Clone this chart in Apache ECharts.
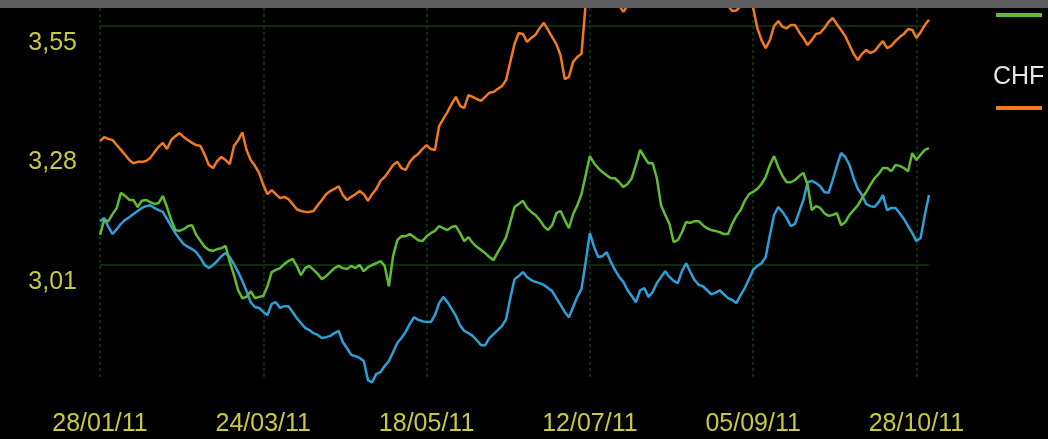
<!DOCTYPE html>
<html>
<head>
<meta charset="utf-8">
<script src="https://cdn.jsdelivr.net/npm/echarts@6/dist/echarts.min.js"></script>
<style>
  html, body { margin: 0; padding: 0; background: #000; }
  #chart { width: 1048px; height: 439px; }
</style>
</head>
<body>
<div id="chart"></div>
<script>
// ---- data ----
const startDate = '2011-01-28';      // first business day shown
const dayCount = 199;                // business days on the axis
const tickLabels = ['28/01/11', '24/03/11', '18/05/11', '12/07/11', '05/09/11', '28/10/11'];
const yLabelValues = [3.01, 3.28, 3.55];
const yGridValues = [3.01, 3.55];

// green (legend label cropped off)
const eurValues = [
3.078,3.112,3.109,3.125,3.139,3.173,3.166,3.157,3.157,3.141,
3.155,3.157,3.152,3.148,3.150,3.166,3.141,3.112,3.089,3.087,
3.091,3.098,3.100,3.078,3.064,3.051,3.044,3.042,3.046,3.048,
3.053,3.017,2.987,2.953,2.935,2.938,2.951,2.935,2.938,2.940,
2.962,2.994,2.999,3.003,3.012,3.019,3.024,3.008,2.987,3.003,
3.008,2.999,2.990,2.978,2.985,2.994,3.003,3.008,3.003,3.001,
3.008,3.003,3.010,2.996,3.005,3.010,3.014,3.019,3.008,2.962,
3.030,3.066,3.075,3.075,3.080,3.073,3.066,3.064,3.075,3.082,
3.087,3.098,3.093,3.089,3.096,3.098,3.082,3.064,3.073,3.060,
3.051,3.044,3.037,3.028,3.021,3.039,3.055,3.073,3.107,3.141,
3.148,3.155,3.139,3.130,3.123,3.112,3.098,3.089,3.100,3.127,
3.132,3.112,3.093,3.125,3.145,3.170,3.213,3.256,3.240,3.229,
3.220,3.213,3.206,3.206,3.197,3.186,3.193,3.206,3.236,3.270,
3.254,3.240,3.240,3.206,3.145,3.123,3.103,3.062,3.066,3.084,
3.107,3.105,3.109,3.109,3.100,3.093,3.089,3.087,3.084,3.080,
3.080,3.103,3.121,3.134,3.155,3.170,3.175,3.182,3.193,3.209,
3.236,3.256,3.231,3.211,3.197,3.197,3.202,3.211,3.218,3.191,
3.134,3.143,3.139,3.127,3.121,3.123,3.127,3.100,3.107,3.123,
3.134,3.145,3.161,3.175,3.191,3.206,3.216,3.229,3.229,3.222,
3.236,3.234,3.229,3.222,3.263,3.247,3.259,3.270,3.274
];

// orange
const chfValues = [
3.290,3.299,3.295,3.292,3.281,3.270,3.259,3.247,3.240,3.243,
3.243,3.245,3.252,3.265,3.277,3.286,3.272,3.292,3.301,3.308,
3.299,3.292,3.286,3.281,3.279,3.259,3.236,3.229,3.245,3.254,
3.247,3.238,3.279,3.292,3.310,3.270,3.247,3.234,3.218,3.191,
3.170,3.179,3.170,3.161,3.164,3.159,3.148,3.136,3.132,3.130,
3.130,3.132,3.145,3.157,3.170,3.177,3.182,3.188,3.168,3.157,
3.164,3.170,3.177,3.170,3.155,3.170,3.182,3.200,3.209,3.222,
3.236,3.243,3.229,3.225,3.243,3.254,3.261,3.272,3.281,3.272,
3.270,3.324,3.340,3.356,3.374,3.390,3.369,3.365,3.394,3.390,
3.385,3.381,3.390,3.399,3.401,3.408,3.414,3.428,3.469,3.509,
3.534,3.532,3.514,3.523,3.530,3.545,3.557,3.541,3.525,3.509,
3.484,3.430,3.435,3.469,3.480,3.487,3.600,3.625,3.640,3.632,
3.645,3.630,3.612,3.600,3.596,3.582,3.596,3.615,3.628,3.640,
3.652,3.660,3.648,3.655,3.668,3.660,3.645,3.650,3.638,3.625,
3.615,3.620,3.610,3.600,3.606,3.612,3.605,3.598,3.600,3.600,
3.596,3.584,3.585,3.595,3.605,3.600,3.592,3.545,3.518,3.500,
3.518,3.550,3.561,3.548,3.545,3.552,3.552,3.536,3.523,3.507,
3.518,3.532,3.534,3.545,3.559,3.568,3.554,3.541,3.527,3.507,
3.487,3.473,3.487,3.496,3.489,3.493,3.505,3.516,3.500,3.505,
3.516,3.525,3.532,3.543,3.541,3.523,3.536,3.552,3.564
];

// blue
const usdValues = [
3.109,3.116,3.096,3.080,3.091,3.103,3.112,3.118,3.125,3.132,
3.139,3.143,3.145,3.139,3.134,3.130,3.114,3.098,3.082,3.069,
3.057,3.051,3.046,3.039,3.026,3.010,3.003,3.010,3.019,3.030,
3.037,3.028,3.012,2.994,2.974,2.951,2.926,2.915,2.913,2.904,
2.897,2.922,2.926,2.913,2.917,2.917,2.904,2.890,2.879,2.868,
2.863,2.856,2.852,2.845,2.847,2.850,2.856,2.861,2.836,2.822,
2.807,2.804,2.800,2.793,2.750,2.745,2.764,2.768,2.782,2.793,
2.813,2.834,2.845,2.859,2.877,2.892,2.886,2.883,2.881,2.881,
2.897,2.924,2.938,2.926,2.911,2.895,2.874,2.861,2.856,2.850,
2.840,2.829,2.829,2.845,2.854,2.863,2.872,2.888,2.935,2.978,
2.985,2.994,2.983,2.976,2.972,2.969,2.965,2.958,2.951,2.935,
2.920,2.904,2.892,2.915,2.938,2.956,3.017,3.082,3.051,3.028,
3.030,3.039,3.017,2.999,2.983,2.972,2.953,2.940,2.926,2.953,
2.958,2.938,2.949,2.969,2.983,2.996,2.983,2.974,2.969,2.996,
3.014,2.994,2.976,2.965,2.962,2.953,2.944,2.947,2.953,2.944,
2.935,2.931,2.924,2.942,2.958,2.978,2.999,3.008,3.014,3.028,
3.078,3.123,3.141,3.130,3.116,3.098,3.103,3.130,3.157,3.197,
3.200,3.195,3.188,3.175,3.173,3.202,3.234,3.263,3.254,3.236,
3.206,3.182,3.168,3.148,3.143,3.141,3.152,3.168,3.134,3.139,
3.139,3.127,3.114,3.098,3.082,3.064,3.071,3.123,3.168
];

// ---- business-day categories (dd/mm/yy) ----
function pad(n) { return (n < 10 ? '0' : '') + n; }
const categories = [];
(function () {
  const p = startDate.split('-').map(Number);
  const d = new Date(Date.UTC(p[0], p[1] - 1, p[2]));
  while (categories.length < dayCount) {
    const wd = d.getUTCDay();
    if (wd !== 0 && wd !== 6) {
      categories.push(pad(d.getUTCDate()) + '/' + pad(d.getUTCMonth() + 1) + '/' + String(d.getUTCFullYear()).slice(2));
    }
    d.setUTCDate(d.getUTCDate() + 1);
  }
})();
const labelStep = categories.indexOf(tickLabels[1]); // 39 business days

const chart = echarts.init(document.getElementById('chart'), null, { renderer: 'canvas' });
const yellow = '#c9c842';
const gridGreen = '#123a12';

chart.setOption({
  backgroundColor: '#000',
  animation: false,
  grid: { left: 100, right: 119, top: 8, bottom: 62, containLabel: false },
  xAxis: {
    type: 'category',
    data: categories,
    boundaryGap: false,
    axisLine: { show: false },
    axisTick: { show: false },
    axisLabel: {
      interval: labelStep - 1,
      color: yellow,
      fontFamily: 'Liberation Sans',
      fontSize: 25,
      margin: 35,
      formatter: v => (tickLabels.indexOf(v) >= 0 ? v : '')
    },
    splitLine: {
      show: true,
      interval: labelStep - 1,
      lineStyle: { color: gridGreen, width: 1.5, type: [3, 3] }
    }
  },
  yAxis: {
    type: 'value',
    min: 2.757,
    max: 3.5906,
    axisLine: { show: false },
    axisTick: { show: false, customValues: yGridValues },
    axisLabel: {
      customValues: yLabelValues,
      color: yellow,
      fontFamily: 'Liberation Sans',
      fontSize: 25,
      margin: 23,
      verticalAlign: 'top',
      lineHeight: 34,
      formatter: v => v.toFixed(2).replace('.', ',')
    },
    splitLine: {
      show: true,
      lineStyle: { color: gridGreen, width: 1.5 }
    }
  },
  series: [
    { name: 'USD', type: 'line', data: usdValues, symbol: 'none', clip: false,
      lineStyle: { color: '#2f9fd9', width: 2.5 }, itemStyle: { color: '#2f9fd9' } },
    { name: 'EUR', type: 'line', data: eurValues, symbol: 'none', clip: false,
      lineStyle: { color: '#5fbd34', width: 2.5 }, itemStyle: { color: '#5fbd34' } },
    { name: 'CHF', type: 'line', data: chfValues, symbol: 'none', clip: false,
      lineStyle: { color: '#f07a20', width: 2.5 }, itemStyle: { color: '#f07a20' } }
  ],
  graphic: [
    { type: 'rect', left: 0, top: 0, z: 100, shape: { width: 1048, height: 8 }, style: { fill: '#5e5e60' } },
    { type: 'rect', left: 996, top: 13, z: 100, shape: { width: 46, height: 4 }, style: { fill: '#5fbd34' } },
    { type: 'text', left: 993, top: 65, z: 100,
      style: { text: 'CHF', fill: '#e6e6e6', font: '25px "Liberation Sans"' } },
    { type: 'rect', left: 996, top: 106, z: 100, shape: { width: 46, height: 4 }, style: { fill: '#f07a20' } }
  ]
});
</script>
</body>
</html>
